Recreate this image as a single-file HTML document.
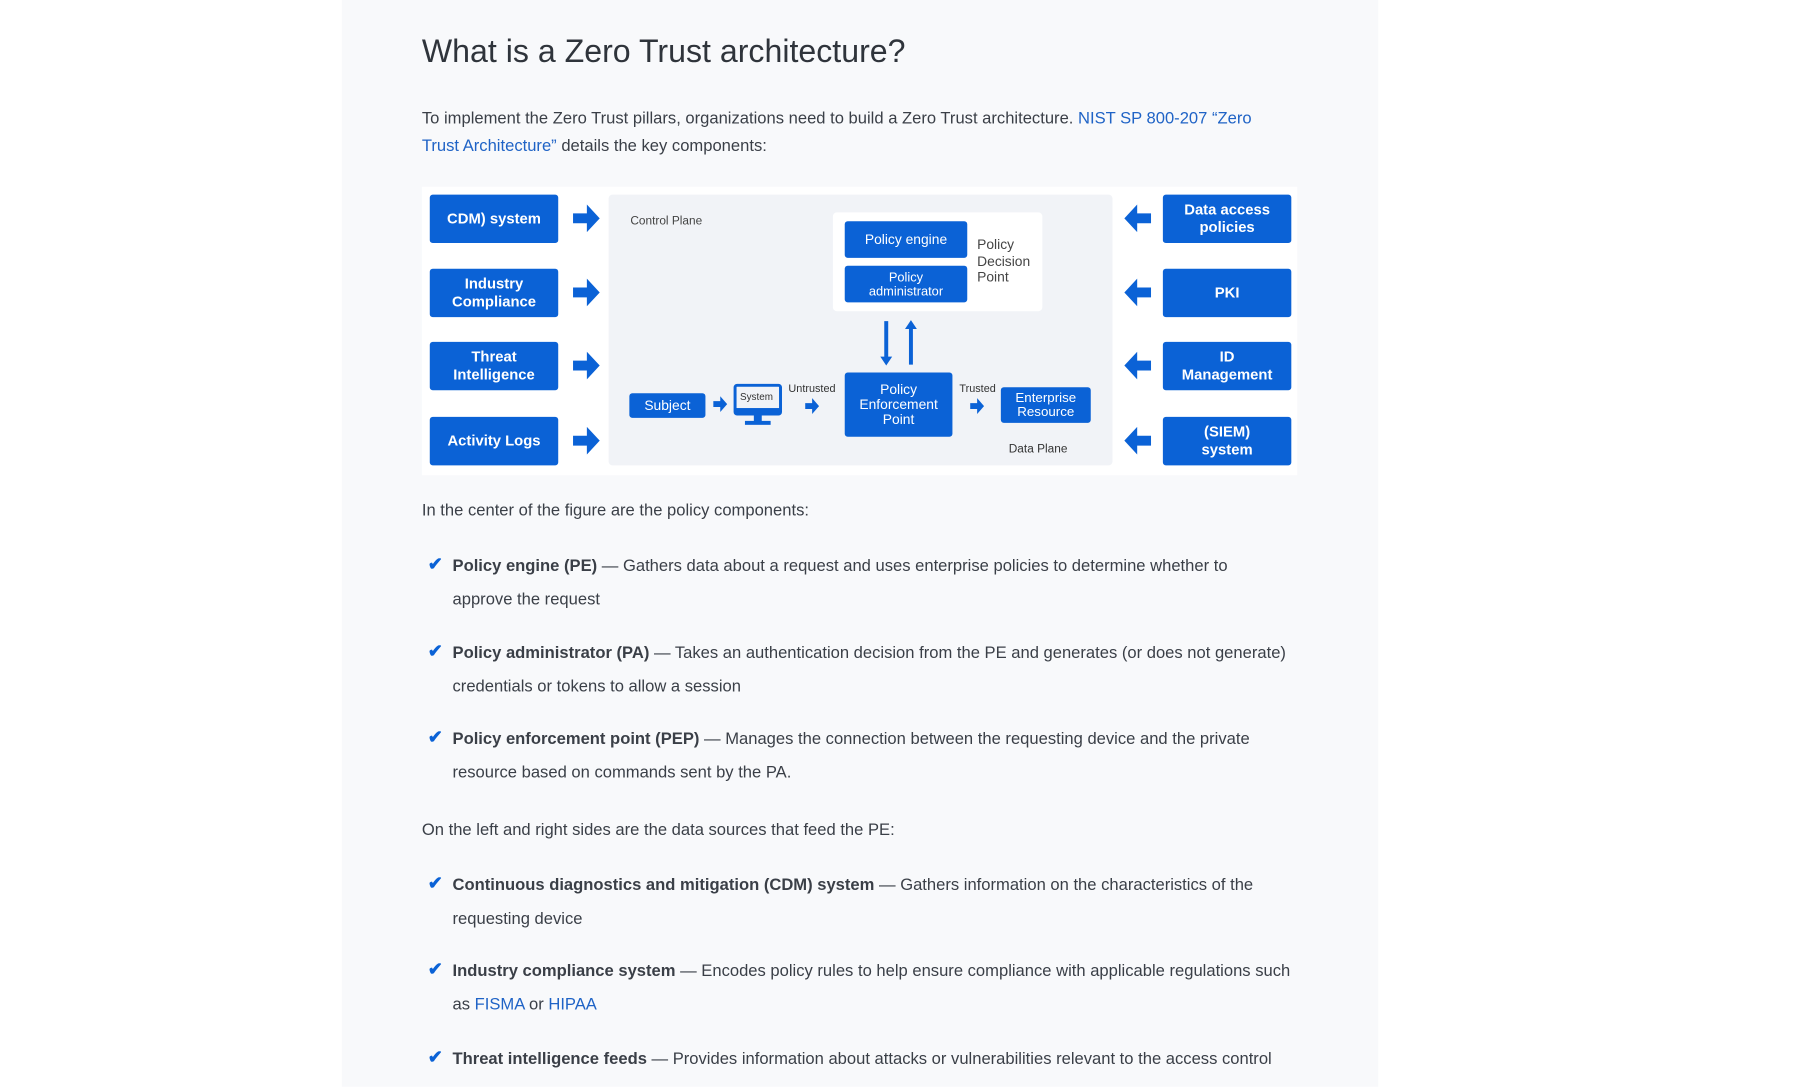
<!DOCTYPE html>
<html><head><meta charset="utf-8"><style>
*{margin:0;padding:0;box-sizing:border-box}
body{width:1808px;height:1079px;background:#fff;position:relative;overflow:hidden;font-family:"Liberation Sans",sans-serif;color:#3a3f47}
#w{position:absolute;left:0;top:0;width:1830px;height:1100px;transform:scale(0.988);transform-origin:0 0}
.panel{position:absolute;left:346px;top:0;width:1049px;height:1100px;background:#f8f9fb}
.t{position:absolute;white-space:nowrap;font-size:16.8px;line-height:20px}
a{color:#1f63c6;text-decoration:none}
.b{position:absolute;background:#0b62d6;color:#fff;font-weight:bold;display:flex;align-items:center;justify-content:center;text-align:center;border-radius:3px;line-height:1.15}
.lb{width:130px;height:49px;left:435px;font-size:15px}
.rb{width:130px;height:49px;left:1177px;font-size:15px}
.chk{position:absolute;color:#0b62d6;font-size:18px;font-weight:bold}
</style></head><body><div id="w">
<div class="panel"></div>
<div class="t" style="left:427px;top:32px;font-size:32.5px;line-height:40px;color:#2f343b">What is a Zero Trust architecture?</div>
<div class="t" style="left:427px;top:110px">To implement the Zero Trust pillars, organizations need to build a Zero Trust architecture. <a>NIST SP 800-207 “Zero</a></div>
<div class="t" style="left:427px;top:138px"><a>Trust Architecture”</a> details the key components:</div>

<div style="position:absolute;left:427px;top:189px;width:886px;height:292px;background:#fff"></div>
<div style="position:absolute;left:616px;top:197px;width:510px;height:274px;background:#f1f3f7;border-radius:4px"></div>

<div class="b lb" style="top:197px">CDM) system</div>
<div class="b lb" style="top:272px">Industry<br>Compliance</div>
<div class="b lb" style="top:346px">Threat<br>Intelligence</div>
<div class="b lb" style="top:422px">Activity Logs</div>
<div class="b rb" style="top:197px">Data access<br>policies</div>
<div class="b rb" style="top:272px">PKI</div>
<div class="b rb" style="top:346px">ID<br>Management</div>
<div class="b rb" style="top:422px">(SIEM)<br>system</div>

<svg style="position:absolute;left:0;top:0" width="1808" height="1079">
<g fill="#0b62d6">
<path d="M580 216h14v-9l13 14-13 14v-9h-14z"/>
<path d="M580 291h14v-9l13 14-13 14v-9h-14z"/>
<path d="M580 365h14v-9l13 14-13 14v-9h-14z"/>
<path d="M580 441h14v-9l13 14-13 14v-9h-14z"/>
<path d="M1165 216h-14v-9l-13 14 13 14v-9h14z"/>
<path d="M1165 291h-14v-9l-13 14 13 14v-9h14z"/>
<path d="M1165 365h-14v-9l-13 14 13 14v-9h14z"/>
<path d="M1165 441h-14v-9l-13 14 13 14v-9h14z"/>
<path d="M722 406h7v-5l7 8-7 8v-5h-7z"/>
<path d="M815 408h7v-5l7 8-7 8v-5h-7z"/>
<path d="M982 408h7v-5l7 8-7 8v-5h-7z"/>
<path d="M895 325h4v36h4l-6 9-6-9h4z"/>
<path d="M920 369h4v-36h4l-6-9-6 9h4z"/>
</g>
<g fill="none" stroke="#0b62d6" stroke-width="3">
<rect x="744" y="390" width="46" height="29" rx="2"/>
</g>
<rect x="744" y="413" width="46" height="6" fill="#0b62d6"/>
<rect x="763" y="419" width="8" height="8" fill="#0b62d6"/>
<rect x="754" y="426" width="26" height="4" fill="#0b62d6"/>
</svg>
<div class="t" style="left:749px;top:397px;font-size:10px;line-height:12px;color:#333">System</div>

<div class="t" style="left:638px;top:216px;font-size:12px;line-height:14px;color:#444">Control Plane</div>
<div style="position:absolute;left:843px;top:215px;width:212px;height:100px;background:#fff;border-radius:4px"></div>
<div class="b" style="left:855px;top:224px;width:124px;height:37px;font-size:14px;font-weight:normal">Policy engine</div>
<div class="b" style="left:855px;top:269px;width:124px;height:37px;font-size:13px;font-weight:normal;line-height:1.05">Policy<br>administrator</div>
<div class="t" style="left:989px;top:239px;font-size:14px;line-height:16.5px;color:#444">Policy<br>Decision<br>Point</div>
<div class="b" style="left:855px;top:377px;width:109px;height:65px;font-size:14px;font-weight:normal;line-height:1.05">Policy<br>Enforcement<br>Point</div>
<div class="b" style="left:637px;top:398px;width:77px;height:25px;font-size:14px;font-weight:normal">Subject</div>
<div class="b" style="left:1013px;top:392px;width:91px;height:36px;font-size:13.5px;font-weight:normal;line-height:1.05">Enterprise<br>Resource</div>
<div class="t" style="left:798px;top:388px;font-size:11px;line-height:13px;color:#333">Untrusted</div>
<div class="t" style="left:971px;top:388px;font-size:11px;line-height:13px;color:#333">Trusted</div>
<div class="t" style="left:1021px;top:447px;font-size:12px;line-height:14px;color:#333">Data Plane</div>

<div class="t" style="left:427px;top:507px">In the center of the figure are the policy components:</div>

<div class="chk" style="left:433px;top:561px">✔</div>
<div class="t" style="left:458px;top:563px"><b>Policy engine (PE)</b> — Gathers data about a request and uses enterprise policies to determine whether to</div>
<div class="t" style="left:458px;top:597px">approve the request</div>
<div class="chk" style="left:433px;top:649px">✔</div>
<div class="t" style="left:458px;top:651px"><b>Policy administrator (PA)</b> — Takes an authentication decision from the PE and generates (or does not generate)</div>
<div class="t" style="left:458px;top:685px">credentials or tokens to allow a session</div>
<div class="chk" style="left:433px;top:736px">✔</div>
<div class="t" style="left:458px;top:738px"><b>Policy enforcement point (PEP)</b> — Manages the connection between the requesting device and the private</div>
<div class="t" style="left:458px;top:772px">resource based on commands sent by the PA.</div>

<div class="t" style="left:427px;top:830px">On the left and right sides are the data sources that feed the PE:</div>

<div class="chk" style="left:433px;top:884px">✔</div>
<div class="t" style="left:458px;top:886px"><b>Continuous diagnostics and mitigation (CDM) system</b> — Gathers information on the characteristics of the</div>
<div class="t" style="left:458px;top:920px">requesting device</div>
<div class="chk" style="left:433px;top:971px">✔</div>
<div class="t" style="left:458px;top:973px"><b>Industry compliance system</b> — Encodes policy rules to help ensure compliance with applicable regulations such</div>
<div class="t" style="left:458px;top:1007px">as <a>FISMA</a> or <a>HIPAA</a></div>
<div class="chk" style="left:433px;top:1060px">✔</div>
<div class="t" style="left:458px;top:1062px"><b>Threat intelligence feeds</b> — Provides information about attacks or vulnerabilities relevant to the access control</div>
</div></body></html>
